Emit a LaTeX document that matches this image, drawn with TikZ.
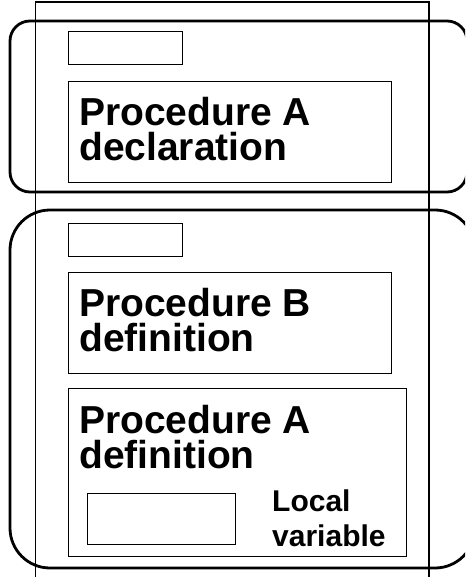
\documentclass[tikz,border=0pt]{standalone}
\usepackage{fontspec}
\setmainfont{Liberation Sans}

\begin{document}
\begin{tikzpicture}[x=1pt, y=-1pt, inner sep=0pt,
    box/.style={draw, line width=1.2pt, anchor=north west},
    scopebox/.style={draw, line width=2.8pt},
    big/.style={font=\fontsize{39}{35}\selectfont\bfseries, align=left, anchor=base west},
    small/.style={font=\fontsize{30}{35}\selectfont\bfseries, align=left, anchor=base west}]
  \clip (0,0) rectangle (465,577);
  % memory frame
  \draw[line width=1.3pt] (35.5,590) |- (429,2) -- (429,590);
  % scopes
  \draw[scopebox, rounded corners=20pt] (10,21) rectangle (467,192);
  \draw[scopebox, rounded corners=40pt] (10,210) rectangle (475,568);
  % boxes
  \path node (slotA) at (68,31)  [box, minimum width=114pt, minimum height=33pt] {}
        node (declA) at (68,81)  [box, minimum width=323pt, minimum height=101pt] {}
        node (slotB) at (68,223) [box, minimum width=114pt, minimum height=33pt] {}
        node (defB)  at (68,272) [box, minimum width=323pt, minimum height=101pt] {}
        node (defA)  at (68,388) [box, minimum width=338pt, minimum height=168pt] {}
        node (local) at (87,493) [box, minimum width=148pt, minimum height=51pt] {};
  % labels (base = last line)
  \path node (declAtxt)  at (79,160.5)   [big] {Procedure A\\declaration}
        node (defBtxt)   at (79,351.5)   [big] {Procedure B\\definition}
        node (defAtxt)   at (79,468.5)   [big] {Procedure A\\definition}
        node (localtxt)  at (272,546) [small] {Local\\variable};
\end{tikzpicture}
\end{document}
